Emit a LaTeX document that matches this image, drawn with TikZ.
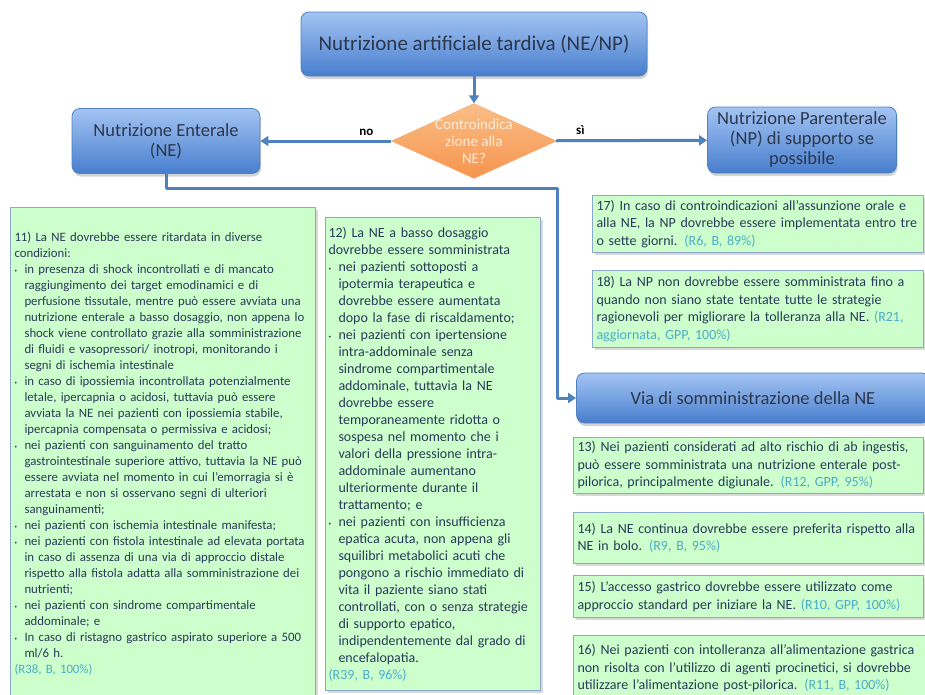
\documentclass[tikz,border=0pt]{standalone}
\usepackage{fontspec}
\setmainfont{Carlito}
\usetikzlibrary{arrows.meta,shapes.geometric,shadows}

\definecolor{bxtop}{RGB}{163,196,243}
\definecolor{bxbot}{RGB}{72,126,206}
\definecolor{bxline}{RGB}{79,129,189}
\definecolor{bxtext}{RGB}{45,55,75}
\definecolor{ortop}{RGB}{250,190,135}
\definecolor{orbot}{RGB}{246,148,78}
\definecolor{recfill}{RGB}{204,255,204}
\definecolor{recline}{RGB}{140,168,200}
\definecolor{rectext}{RGB}{40,58,88}
\definecolor{refcol}{RGB}{75,172,198}

\newcommand{\rif}[1]{{\color{refcol}#1}}
\newcommand{\lb}{\newline}
\newcommand{\pto}{\par\hangindent=10pt\hangafter=1\noindent\makebox[10pt][l]{\raisebox{1pt}{\tiny\textbullet}}}

\begin{document}
\begin{tikzpicture}[x=1pt, y=-1pt, line join=round,
  bluebox/.style={rounded corners=8pt, draw=bxline, line width=0.8pt,
    top color=bxtop, bottom color=bxbot, text=bxtext, align=center,
    font=\fontsize{18.5}{20}\selectfont,
    drop shadow={opacity=.35, shadow xshift=1pt, shadow yshift=-3pt}},
  choice/.style={diamond, aspect=2.2, inner sep=0pt, draw=orbot!80!white,
    top color=ortop, bottom color=orbot, minimum width=165, minimum height=75},
  choicetext/.style={text=white!85!orange, align=center,
    font=\fontsize{15}{17}\selectfont},
  recbox/.style={anchor=north west, draw=recline, line width=1pt, fill=recfill,
    text=rectext, align=left, inner xsep=4pt, inner ysep=1pt,
    drop shadow={opacity=.3, shadow xshift=2pt, shadow yshift=-2pt}},
  small/.style={font=\fontsize{12.8}{16}\selectfont},
  large/.style={font=\fontsize{14}{17.5}\selectfont},
  link/.style={draw=bxline, line width=3pt, -{Triangle[length=8pt, width=10pt]}},
  lbl/.style={font=\bfseries\fontsize{13}{15}\selectfont}]

  \useasboundingbox (0,0) rectangle (925,694);
  \clip (0,0) rectangle (925,694);

  % Blocchi principali
  \node[bluebox, minimum width=346, minimum height=64, font=\fontsize{21}{24}\selectfont] (title) at (474,44)
    {Nutrizione artificiale tardiva (NE/NP)};
  \node[choice, label={[choicetext]center:Controindica\\zione alla\\NE?}] (dec) at (474,141) {};
  \node[bluebox, minimum width=188, minimum height=65] (ne) at (166,141)
    {Nutrizione Enterale\\(NE)};
  \node[bluebox, minimum width=189, minimum height=66] (np) at (802,140)
    {Nutrizione Parenterale\\(NP) di supporto se\\possibile};
  \node[bluebox, minimum width=353, minimum height=50] (via) at (753,398)
    {Via di somministrazione della NE};

  % Collegamenti
  \coordinate (bend) at (557,188);
  \draw[link] (title) -- (dec);
  \draw[link] (dec) -- node[lbl, above=1pt, pos=0.19] {no} (ne);
  \draw[link] (dec) -- node[lbl, above=1pt, pos=0.16] {sì} (np);
  \draw[link] (ne.south) |- (bend) |- (via.west);

  % Raccomandazioni NE
  \node[recbox, small, minimum width=305, minimum height=493, text width=297] (r11) at (10,207) {%
    11) La NE dovrebbe essere ritardata in diverse\lb condizioni:
    \pto in presenza di shock incontrollati e di mancato\lb raggiungimento dei target emodinamici e di\lb perfusione tissutale, mentre può essere avviata una\lb nutrizione enterale a basso dosaggio, non appena lo\lb shock viene controllato grazie alla somministrazione\lb di fluidi e vasopressori/ inotropi, monitorando i\lb segni di ischemia intestinale
    \pto in caso di ipossiemia incontrollata potenzialmente\lb letale, ipercapnia o acidosi, tuttavia può essere\lb avviata la NE nei pazienti con ipossiemia stabile,\lb ipercapnia compensata o permissiva e acidosi;
    \pto nei pazienti con sanguinamento del tratto\lb gastrointestinale superiore attivo, tuttavia la NE può\lb essere avviata nel momento in cui l’emorragia si è\lb arrestata e non si osservano segni di ulteriori\lb sanguinamenti;
    \pto nei pazienti con ischemia intestinale manifesta;
    \pto nei pazienti con fistola intestinale ad elevata portata\lb in caso di assenza di una via di approccio distale\lb rispetto alla fistola adatta alla somministrazione dei\lb nutrienti;
    \pto nei pazienti con sindrome compartimentale\lb addominale; e
    \pto In caso di ristagno gastrico aspirato superiore a 500\lb ml/6 h.
    \par\noindent\rif{(R38, B, 100\%)}};

  \node[recbox, large, font=\fontsize{14}{17}\selectfont, inner xsep=3pt, inner ysep=0.5pt, minimum width=215, minimum height=473, text width=209] (r12) at (325,217) {%
    12) La NE a basso dosaggio\lb dovrebbe essere somministrata
    \pto nei pazienti sottoposti a\lb ipotermia terapeutica e\lb dovrebbe essere aumentata\lb dopo la fase di riscaldamento;
    \pto nei pazienti con ipertensione\lb intra-addominale senza\lb sindrome compartimentale\lb addominale, tuttavia la NE\lb dovrebbe essere\lb temporaneamente ridotta o\lb sospesa nel momento che i\lb valori della pressione intra-\lb addominale aumentano\lb ulteriormente durante il\lb trattamento; e
    \pto nei pazienti con insufficienza\lb epatica acuta, non appena gli\lb squilibri metabolici acuti che\lb pongono a rischio immediato di\lb vita il paziente siano stati\lb controllati, con o senza strategie\lb di supporto epatico,\lb indipendentemente dal grado di\lb encefalopatia.
    \par\noindent\rif{(R39, B, 96\%)}};

  % Raccomandazioni NP
  \node[recbox, large, minimum width=331, minimum height=57, text width=323] (r17) at (592,195) {%
    17) In caso di controindicazioni all’assunzione orale e\lb alla NE, la NP dovrebbe essere implementata entro tre\lb o sette giorni. \rif{(R6, B, 89\%)}};
  \node[recbox, large, minimum width=331, minimum height=77, text width=323] (r18) at (592,270) {%
    18) La NP non dovrebbe essere somministrata fino a\lb quando non siano state tentate tutte le strategie\lb ragionevoli per migliorare la tolleranza alla NE. \rif{(R21,\lb aggiornata, GPP, 100\%)}};

  % Via di somministrazione
  \node[recbox, large, minimum width=350, minimum height=56, text width=342] (r13) at (573,437) {%
    13) Nei pazienti considerati ad alto rischio di ab ingestis,\lb può essere somministrata una nutrizione enterale post-\lb pilorica, principalmente digiunale. \rif{(R12, GPP, 95\%)}};
  \node[recbox, large, minimum width=350, minimum height=51, text width=342] (r14) at (573,512) {%
    14) La NE continua dovrebbe essere preferita rispetto alla\lb NE in bolo. \rif{(R9, B, 95\%)}};
  \node[recbox, large, minimum width=350, minimum height=42, text width=342] (r15) at (573,575) {%
    15) L’accesso gastrico dovrebbe essere utilizzato come\lb approccio standard per iniziare la NE. \rif{(R10, GPP, 100\%)}};
  \node[recbox, large, minimum width=360, minimum height=65, text width=352] (r16) at (573,635) {%
    16) Nei pazienti con intolleranza all’alimentazione gastrica\lb non risolta con l’utilizzo di agenti procinetici, si dovrebbe\lb utilizzare l’alimentazione post-pilorica. \rif{(R11, B, 100\%)}};
\end{tikzpicture}
\end{document}
